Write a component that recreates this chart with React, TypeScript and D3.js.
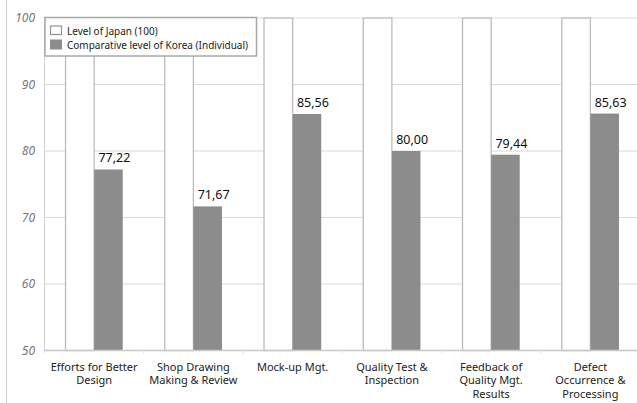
import React from "react";
import * as d3 from "d3";

const categories = [
  ["Efforts for Better", "Design"],
  ["Shop Drawing", "Making & Review"],
  ["Mock-up Mgt."],
  ["Quality Test &", "Inspection"],
  ["Feedback of", "Quality Mgt.", "Results"],
  ["Defect", "Occurrence &", "Processing"],
];
const japanValues = [100, 100, 100, 100, 100, 100];
const koreaValues = [77.22, 71.67, 85.56, 80.0, 79.44, 85.63];
const yTicks = [50, 60, 70, 80, 90, 100];
const seriesNames = ["Level of Japan (100)", "Comparative level of Korea (Individual)"];

const W = 637;
const H = 403;
const left = 44.5;
const right = 640;
const top = 18;
const bottom = 350.5;

export default function App() {
  const ids = categories.map((_, i) => String(i));
  const x = d3.scaleBand<string>().domain(ids).range([left, right]).padding(0);
  const inner = d3
    .scaleBand<string>()
    .domain(["japan", "korea"])
    .range([0, x.bandwidth()])
    .paddingInner(0)
    .paddingOuter(0.735);
  const y = d3.scaleLinear().domain([50, 100]).range([bottom, top]);
  const fmt = (v: number) => v.toFixed(2).replace(".", ",");
  const font = "'Noto Sans', 'DejaVu Sans', sans-serif";

  return (
    <svg
      width={W}
      height={H}
      style={{ position: "absolute", left: 0, top: 0, background: "#fff" }}
      fontFamily={font}
    >
      <line x1={6.5} x2={6.5} y1={0} y2={H} stroke="#d0d0d0" strokeWidth={1} />
      {yTicks.slice(1).map((t) => (
        <line key={t} x1={left} x2={W} y1={y(t)} y2={y(t)} stroke="#d9d9d9" strokeWidth={1} />
      ))}
      <line x1={left} x2={left} y1={top} y2={bottom} stroke="#d0d0d0" strokeWidth={1} />
      {yTicks.map((t) => (
        <text
          key={t}
          x={35}
          y={y(t)}
          dy="0.35em"
          textAnchor="end"
          fontSize={12}
          fontStyle="italic"
          fill="#777"
        >
          {t}
        </text>
      ))}
      {ids.map((id, i) => {
        const x0 = x(id)!;
        const jx = x0 + inner("japan")!;
        const kx = x0 + inner("korea")!;
        const bw = inner.bandwidth();
        return (
          <g key={id}>
            <rect
              x={jx}
              y={y(japanValues[i])}
              width={bw}
              height={bottom - y(japanValues[i])}
              fill="#fff"
              stroke="#bcbcbc"
              strokeWidth={1.3}
            />
            <rect
              x={kx}
              y={y(koreaValues[i])}
              width={bw}
              height={bottom - y(koreaValues[i])}
              fill="#8c8c8c"
            />
            <text
              x={kx + bw / 2 + 6}
              y={y(koreaValues[i]) - 7}
              textAnchor="middle"
              fontSize={12.5}
              fill="#111"
            >
              {fmt(koreaValues[i])}
            </text>
          </g>
        );
      })}
      <line x1={left} x2={W} y1={bottom} y2={bottom} stroke="#c8c8c8" strokeWidth={1.3} />
      {ids.map((id) => (
        <line
          key={"t" + id}
          x1={x(id)!}
          x2={x(id)!}
          y1={bottom}
          y2={bottom + 3}
          stroke="#e0e0e0"
        />
      ))}
      {categories.map((lines, i) => (
        <text
          key={"c" + i}
          x={x(String(i))! + x.bandwidth() / 2}
          y={370.5}
          textAnchor="middle"
          fontSize={11}
          fill="#222"
        >
          {lines.map((l, j) => (
            <tspan key={j} x={x(String(i))! + x.bandwidth() / 2} dy={j === 0 ? 0 : 13.5}>
              {l}
            </tspan>
          ))}
        </text>
      ))}
      <rect x={45} y={17.5} width={211.5} height={38.5} fill="#fff" stroke="#a8a8a8" strokeWidth={1.5} />
      <rect x={50.5} y={26} width={11} height={8.5} fill="#fff" stroke="#999" strokeWidth={1.3} />
      <rect x={50} y={39.5} width={12} height={10} fill="#8c8c8c" />
      <text x={67} y={34.5} fontSize={10} fill="#222">
        {seriesNames[0]}
      </text>
      <text x={67} y={48.5} fontSize={10} fill="#222">
        {seriesNames[1]}
      </text>
    </svg>
  );
}
